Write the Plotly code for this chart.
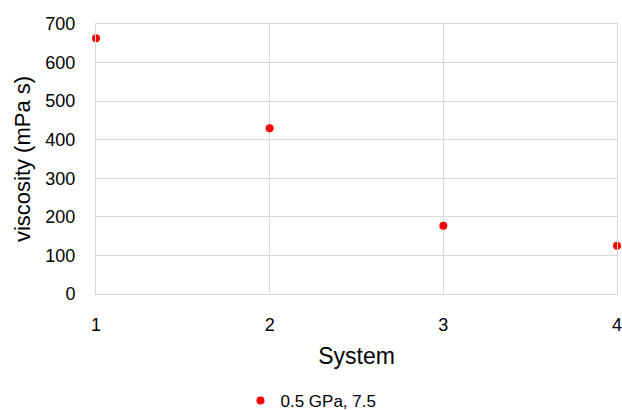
import plotly.graph_objects as go

systems = [1, 2, 3, 4]
viscosity = [663, 430, 177, 125]
series_name = "0.5 GPa, 7.5"
y_ticks = [0, 100, 200, 300, 400, 500, 600, 700]
x_ticks = [1, 2, 3, 4]

fig = go.Figure()
fig.add_trace(go.Scatter(
    x=systems, y=viscosity, mode="markers", name=series_name,
    marker=dict(color="#ff0000", size=8),
    cliponaxis=False,
))

font_family = "Liberation Sans, Arial, sans-serif"
fig.update_layout(
    width=622, height=410,
    margin=dict(l=96, r=5, t=24, b=116, autoexpand=False),
    paper_bgcolor="white", plot_bgcolor="white",
    font=dict(family=font_family, color="#000000", size=18),
    showlegend=True,
    legend=dict(orientation="h", x=0.5, xanchor="center", xref="container",
                y=0.022, yanchor="middle", yref="container",
                font=dict(size=17)),
    xaxis=dict(
        range=[1, 4], tickvals=x_ticks, showgrid=True, gridcolor="#d9d9d9",
        showline=True, mirror=True, linecolor="#d9d9d9", linewidth=1, zeroline=False,
        ticks="outside", ticklen=14, tickcolor="rgba(0,0,0,0)",
        automargin=False, ticklabeloverflow="allow",
        title=dict(text="System", font=dict(size=23), standoff=14),
        tickfont=dict(size=18),
    ),
    yaxis=dict(
        range=[0, 700], tickvals=y_ticks, showgrid=True, gridcolor="#d9d9d9",
        showline=True, mirror=True, linecolor="#d9d9d9", linewidth=1, zeroline=False,
        ticks="outside", ticklen=16, tickcolor="rgba(0,0,0,0)",
        automargin=False, ticklabeloverflow="allow",
        title=dict(text="viscosity (mPa s)", font=dict(size=22), standoff=8),
        tickfont=dict(size=18),
    ),
)

fig.write_html("out.html", config={"displayModeBar": False},
               post_script="document.body.style.margin='0';")
